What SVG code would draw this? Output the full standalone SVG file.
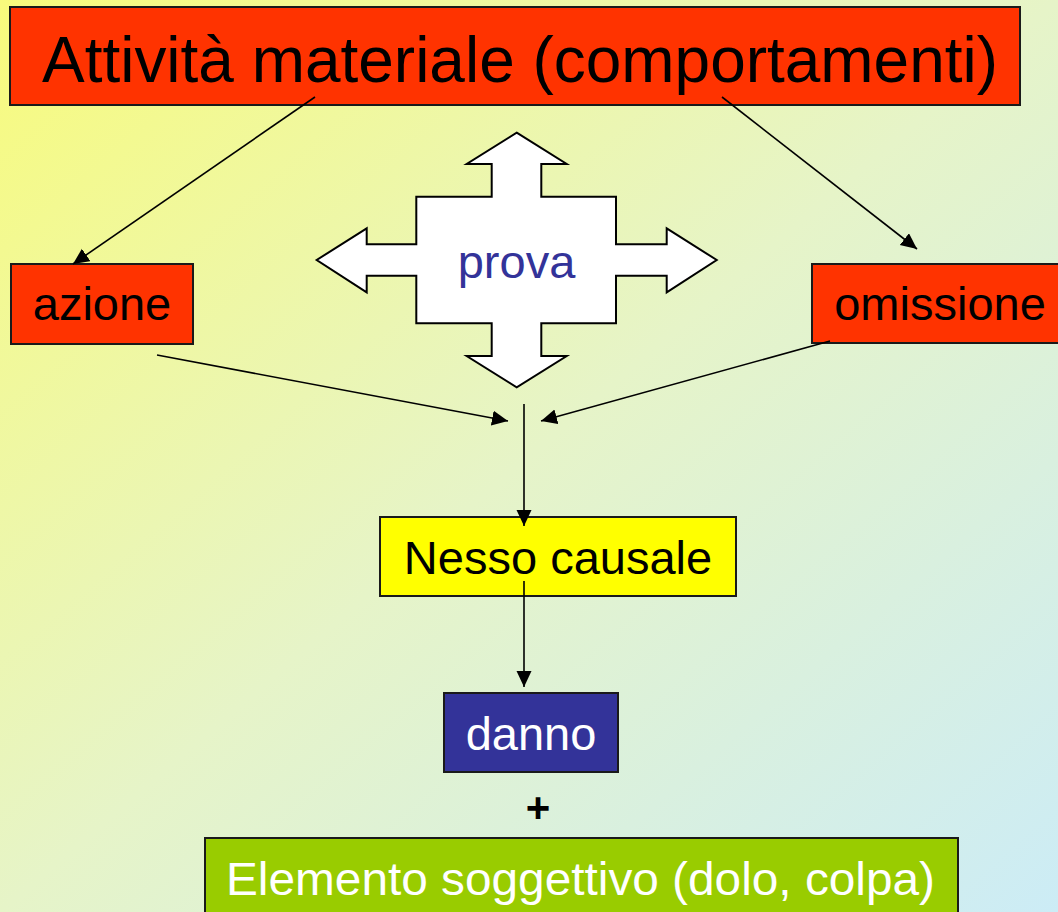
<svg xmlns="http://www.w3.org/2000/svg" width="1058" height="912" viewBox="0 0 1058 912">
<defs>
<linearGradient id="bg" x1="0" y1="0" x2="1" y2="1">
<stop offset="0" stop-color="#f8fb7c"/>
<stop offset="0.5" stop-color="#e6f4c8"/>
<stop offset="1" stop-color="#ccecf6"/>
</linearGradient>
<marker id="ah" markerUnits="userSpaceOnUse" markerWidth="17" markerHeight="16" refX="16" refY="7.5" orient="auto">
<path d="M0,0 L16,7.5 L0,15 z" fill="#000"/>
</marker>
</defs>
<style>
.box{stroke:#1a1a1a;stroke-width:2}
.t{font-family:"Liberation Sans",Arial,sans-serif;font-size:47px;text-anchor:middle}
.c{stroke:#000;stroke-width:1.6;fill:none;marker-end:url(#ah)}
</style>
<rect width="1058" height="912" fill="url(#bg)"/>
<g id="title">
<rect class="box" x="10" y="7" width="1010" height="98" fill="#ff3300"/>
<text class="t" x="520" y="82" style="font-size:64px" textLength="956" lengthAdjust="spacingAndGlyphs">Attività materiale (comportamenti)</text>
</g>
<g id="azione">
<rect class="box" x="11" y="264" width="182" height="80" fill="#ff3300"/>
<text class="t" x="102" y="320">azione</text>
</g>
<g id="omissione">
<rect class="box" x="812" y="264" width="260" height="79" fill="#ff3300"/>
<text class="t" x="940" y="320">omissione</text>
</g>
<g id="prova">
<path d="M516.7,132.7 L566.7,164 L541.3,164 L541.3,196.7 L616,196.7 L616,244.3 L666.7,244.3 L666.7,228.3 L716.7,260 L666.7,292.3 L666.7,275.7 L616,275.7 L616,323.3 L541.3,323.3 L541.3,356 L566.7,356 L516.7,387.3 L466.7,356 L491.7,356 L491.7,323.3 L416.3,323.3 L416.3,275.7 L366.7,275.7 L366.7,292.3 L316.7,260 L366.7,228.3 L366.7,244.3 L416.3,244.3 L416.3,196.7 L491.7,196.7 L491.7,164 L466.7,164 Z" fill="#fff" stroke="#000" stroke-width="2"/>
<text class="t" x="516.5" y="278" fill="#333399">prova</text>
</g>
<g id="nesso">
<rect class="box" x="380" y="517" width="356" height="79" fill="#ffff00"/>
<text class="t" x="558" y="574">Nesso causale</text>
</g>
<g id="danno">
<rect class="box" x="444" y="693" width="174" height="79" fill="#333399"/>
<text class="t" x="531" y="750" fill="#fff">danno</text>
</g>
<g id="plus">
<text class="t" x="538" y="822" style="font-size:42px;font-weight:bold">+</text>
</g>
<g id="elemento">
<rect class="box" x="205" y="838" width="753" height="90" fill="#99cc00"/>
<text class="t" x="580.5" y="895" fill="#fff" textLength="709" lengthAdjust="spacingAndGlyphs">Elemento soggettivo (dolo, colpa)</text>
</g>
<g id="connectors">
<line class="c" x1="315" y1="97" x2="73" y2="264"/>
<line class="c" x1="722" y1="97" x2="917" y2="249"/>
<line class="c" x1="157" y1="355" x2="508" y2="421"/>
<line class="c" x1="830" y1="341" x2="541" y2="421"/>
<line class="c" x1="524" y1="404" x2="524" y2="526"/>
<line class="c" x1="524" y1="581" x2="524" y2="687"/>
</g>
</svg>
